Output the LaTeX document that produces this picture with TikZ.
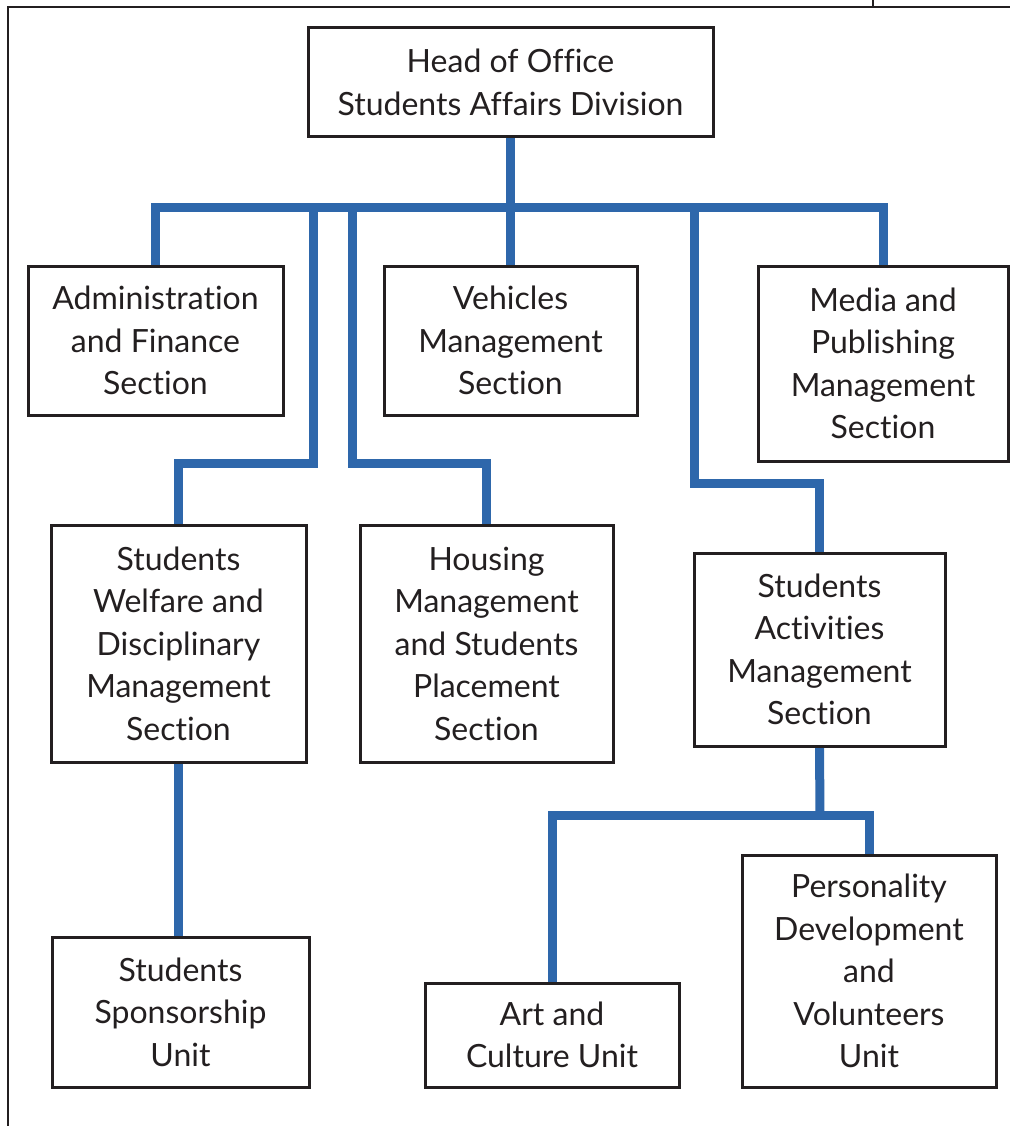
\documentclass[tikz,border=0pt]{standalone}
\usepackage{fontspec}
\setmainfont{Lato}[RawFeature=-liga]
\usetikzlibrary{backgrounds}
\definecolor{busblue}{HTML}{2E67AB}
\definecolor{ink}{HTML}{231F20}
\begin{document}
\begin{tikzpicture}[x=1pt,y=-1pt,
  unit/.style={draw=ink,line width=3pt,fill=white,align=center,inner sep=0pt,
    font=\fontsize{32}{42.5}\selectfont,text=ink},
  bus/.style={draw=busblue,line width=9pt,line join=miter}]
\useasboundingbox (0,0) rectangle (1010,1126);
% outer frame
\draw[ink,line width=2pt] (8,1126) -- (8,7) -- (1010,7);
\draw[ink,line width=1.5pt] (873,0) -- (873,7);

% junction points of the connector tree
\coordinate (busy) at (0,207);
\coordinate (wtop) at (313,207);
\coordinate (wbend) at (313,463);
\coordinate (htop) at (352,207);
\coordinate (hbend) at (352,463);
\coordinate (atop) at (694,207);
\coordinate (abend) at (694,483);
\coordinate (split) at (820,815);

% boxes
\path
  (510.5,82.5) node[unit,minimum width=405,minimum height=109] (head) {Head of Office\\Students Affairs Division}
  (155.5,340.5) node[unit,minimum width=255,minimum height=149] (admin) {Administration\\and Finance\\Section}
  (510.5,340.5) node[unit,minimum width=253,minimum height=149] (vehicles) {Vehicles\\Management\\Section}
  (883,363.5) node[unit,minimum width=250,minimum height=195] (media) {Media and\\Publishing\\Management\\Section}
  (178.5,643.5) node[unit,minimum width=255,minimum height=237] (welfare) {Students\\Welfare and\\Disciplinary\\Management\\Section}
  (486.5,643.5) node[unit,minimum width=253,minimum height=237] (housing) {Housing\\Management\\and Students\\Placement\\Section}
  (819.5,649.5) node[unit,minimum width=251,minimum height=193] (activities) {Students\\Activities\\Management\\Section}
  (180.5,1012) node[unit,minimum width=257,minimum height=150] (sponsor) {Students\\Sponsorship\\Unit}
  (552,1035) node[unit,minimum width=254,minimum height=104] (art) {Art and\\Culture Unit}
  (869,971) node[unit,minimum width=254,minimum height=232] (pers) {Personality\\Development\\and\\Volunteers\\Unit};

% connectors, behind the boxes
\begin{scope}[on background layer]
  \draw[bus] (head.south) -- (vehicles.north);
  \draw[bus] (admin.north) -- (admin.north |- busy) -| (media.north);
  \draw[bus] (wtop) -- (wbend) -| (welfare.north);
  \draw[bus] (htop) -- (hbend) -| (housing.north);
  \draw[bus] (atop) -- (abend) -| (activities.north);
  \draw[bus] (welfare.south) -- (welfare.south |- sponsor.north);
  \draw[bus] (activities.south) -- (split);
  \draw[bus] (art.north) -- (art.north |- split) -| (pers.north);
\end{scope}
\end{tikzpicture}
\end{document}
